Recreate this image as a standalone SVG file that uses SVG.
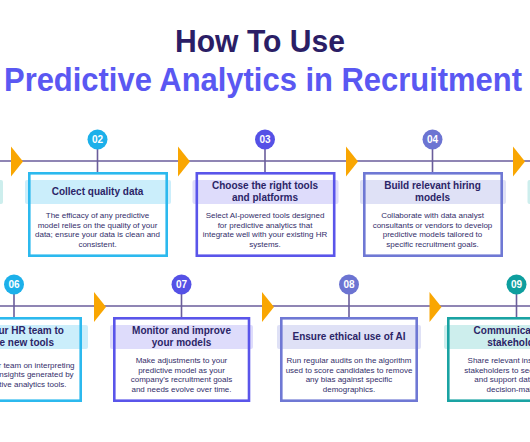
<svg xmlns="http://www.w3.org/2000/svg" width="530" height="442" viewBox="0 0 530 442">
<style>
.bg{fill:#ffffff}
.h1{font-family:"Liberation Sans",Arial,sans-serif;font-weight:bold;font-size:32px;fill:#2b1e66;text-anchor:middle}
.h2{font-family:"Liberation Sans",Arial,sans-serif;font-weight:bold;font-size:34px;fill:#5a58f2;text-anchor:middle}
.tl{stroke:#6a5d9b;stroke-width:1.6;fill:none}
.tri{fill:#f9a602}
.box{fill:none;stroke-width:2.6}
.t{font-family:"Liberation Sans",Arial,sans-serif;font-weight:bold;font-size:10px;fill:#2b2567;text-anchor:middle}
.b{font-family:"Liberation Sans",Arial,sans-serif;font-size:8px;fill:#332e6a;text-anchor:middle}
.num{font-family:"Liberation Sans",Arial,sans-serif;font-weight:bold;font-size:10px;fill:#ffffff;text-anchor:middle}
.teal .box{stroke:#1aa3a3}.teal .hd{fill:#cdeeed}.teal circle{fill:#0e9e9e}
.cyan .box{stroke:#2cb9ee}.cyan .hd{fill:#cbeefb}.cyan circle{fill:#1cb0ea}
.ind .box{stroke:#5a55ea}.ind .hd{fill:#dedcfb}.ind circle{fill:#5551e6}
.sla .box{stroke:#6f78d4}.sla .hd{fill:#dfe1f6}.sla circle{fill:#6c74d2}
</style>
<rect class="bg" x="0" y="0" width="530" height="442"/>
<text class="h1" x="260" y="52" textLength="170" lengthAdjust="spacingAndGlyphs">How To Use</text>
<text class="h2" x="263" y="90.5" textLength="518" lengthAdjust="spacingAndGlyphs">Predictive Analytics in Recruitment</text>

<g id="connectors">
<line class="tl" x1="0" y1="161" x2="530" y2="161"/>
<line class="tl" x1="0" y1="306" x2="530" y2="306"/>
<line class="tl" x1="97.5" y1="149" x2="97.5" y2="172"/>
<line class="tl" x1="265" y1="149" x2="265" y2="172"/>
<line class="tl" x1="432.5" y1="149" x2="432.5" y2="172"/>
<line class="tl" x1="14" y1="294" x2="14" y2="317"/>
<line class="tl" x1="181.5" y1="294" x2="181.5" y2="317"/>
<line class="tl" x1="349" y1="294" x2="349" y2="317"/>
<line class="tl" x1="516.5" y1="294" x2="516.5" y2="317"/>
<polygon class="tri" points="11,146.5 23,161.5 11,176.5"/>
<polygon class="tri" points="178,146.5 190,161.5 178,176.5"/>
<polygon class="tri" points="346,146.5 358,161.5 346,176.5"/>
<polygon class="tri" points="513,146.5 525,161.5 513,176.5"/>
<polygon class="tri" points="94,292 106,307 94,322"/>
<polygon class="tri" points="262,292 274,307 262,322"/>
<polygon class="tri" points="429.5,292 441.5,307 429.5,322"/>
</g>

<g id="step01" class="teal">
<rect class="hd" x="-143" y="180" width="146" height="24" rx="2"/>
<rect class="box" x="-140" y="173.3" width="137" height="82.4"/>
</g>

<g id="step02" class="cyan">
<rect class="hd" x="25" y="180" width="146" height="24" rx="2"/>
<rect class="box" x="29.3" y="173.3" width="137.4" height="82.4"/>
<circle cx="97.5" cy="139.5" r="10"/>
<text class="num" x="97.5" y="143">02</text>
<text class="t" x="97.5" y="195">Collect quality data</text>
<text class="b" x="97.5" y="218">The efficacy of any predictive</text>
<text class="b" x="97.5" y="227.5">model relies on the quality of your</text>
<text class="b" x="97.5" y="237">data; ensure your data is clean and</text>
<text class="b" x="97.5" y="246.5">consistent.</text>
</g>

<g id="step03" class="ind">
<rect class="hd" x="192.5" y="180" width="146" height="24" rx="2"/>
<rect class="box" x="196.8" y="173.3" width="137.4" height="82.4"/>
<circle cx="265" cy="139.5" r="10"/>
<text class="num" x="265" y="143">03</text>
<text class="t" x="265" y="189">Choose the right tools</text>
<text class="t" x="265" y="201">and platforms</text>
<text class="b" x="265" y="218">Select AI-powered tools designed</text>
<text class="b" x="265" y="227.5">for predictive analytics that</text>
<text class="b" x="265" y="237">integrate well with your existing HR</text>
<text class="b" x="265" y="246.5">systems.</text>
</g>

<g id="step04" class="sla">
<rect class="hd" x="360" y="180" width="146" height="24" rx="2"/>
<rect class="box" x="364.3" y="173.3" width="137.4" height="82.4"/>
<circle cx="432.5" cy="139.5" r="10"/>
<text class="num" x="432.5" y="143">04</text>
<text class="t" x="432.5" y="189">Build relevant hiring</text>
<text class="t" x="432.5" y="201">models</text>
<text class="b" x="432.5" y="218">Collaborate with data analyst</text>
<text class="b" x="432.5" y="227.5">consultants or vendors to develop</text>
<text class="b" x="432.5" y="237">predictive models tailored to</text>
<text class="b" x="432.5" y="246.5">specific recruitment goals.</text>
</g>

<g id="step05" class="teal">
<rect class="hd" x="527.5" y="180" width="146" height="24" rx="2"/>
<rect class="box" x="532" y="173.3" width="137.4" height="82.4"/>
</g>

<g id="step06" class="cyan">
<rect class="hd" x="-58" y="325" width="146" height="24" rx="2"/>
<rect class="box" x="-53.7" y="318.3" width="134.4" height="82.4"/>
<circle cx="14" cy="284.5" r="10"/>
<text class="num" x="14" y="288">06</text>
<text class="t" x="12" y="334">Train your HR team to</text>
<text class="t" x="12" y="346">use the new tools</text>
<text class="b" x="20" y="367.5">Train your team on interpreting</text>
<text class="b" x="20" y="377">the data insights generated by</text>
<text class="b" x="22" y="386.5">predictive analytics tools.</text>
</g>

<g id="step07" class="ind">
<rect class="hd" x="110" y="325" width="143" height="24" rx="2"/>
<rect class="box" x="114.3" y="318.3" width="134.7" height="82.4"/>
<circle cx="181.5" cy="284.5" r="10"/>
<text class="num" x="181.5" y="288">07</text>
<text class="t" x="181.5" y="334">Monitor and improve</text>
<text class="t" x="181.5" y="346">your models</text>
<text class="b" x="181.5" y="363">Make adjustments to your</text>
<text class="b" x="181.5" y="372.5">predictive model as your</text>
<text class="b" x="181.5" y="382">company's recruitment goals</text>
<text class="b" x="181.5" y="391.5">and needs evolve over time.</text>
</g>

<g id="step08" class="sla">
<rect class="hd" x="277" y="325" width="144" height="24" rx="2"/>
<rect class="box" x="281.3" y="318.3" width="135.4" height="82.4"/>
<circle cx="349" cy="284.5" r="10"/>
<text class="num" x="349" y="288">08</text>
<text class="t" x="349" y="340">Ensure ethical use of AI</text>
<text class="b" x="349" y="363">Run regular audits on the algorithm</text>
<text class="b" x="349" y="372.5">used to score candidates to remove</text>
<text class="b" x="349" y="382">any bias against specific</text>
<text class="b" x="349" y="391.5">demographics.</text>
</g>

<g id="step09" class="teal">
<rect class="hd" x="444" y="325" width="146" height="24" rx="2"/>
<rect class="box" x="448.3" y="318.3" width="137.4" height="82.4"/>
<circle cx="516.5" cy="284.5" r="10"/>
<text class="num" x="516.5" y="288">09</text>
<text class="t" x="518" y="334">Communicate with</text>
<text class="t" x="518" y="346">stakeholders</text>
<text class="b" x="516.5" y="363">Share relevant insights with</text>
<text class="b" x="516.5" y="372.5">stakeholders to secure buy-in</text>
<text class="b" x="516.5" y="382">and  support data-driven</text>
<text class="b" x="516.5" y="391.5">decision-making.</text>
</g>
</svg>
